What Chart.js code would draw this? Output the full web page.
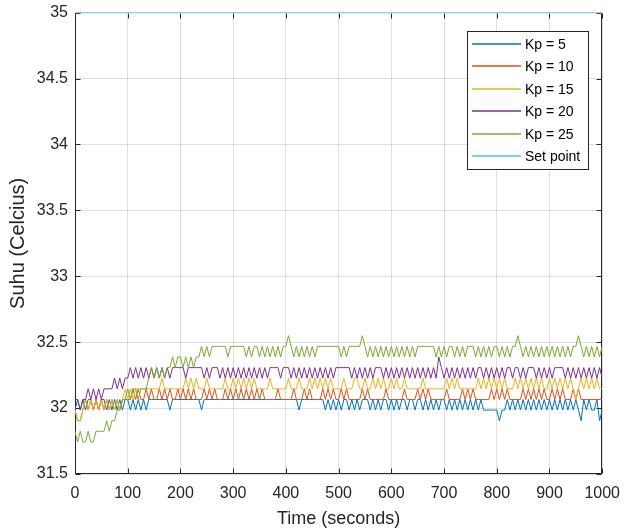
<!DOCTYPE html>
<html>
<head>
<meta charset="utf-8">
<script src="https://cdn.jsdelivr.net/npm/chart.js@4.4.1/dist/chart.umd.min.js"></script>
<style>
  html, body { margin: 0; padding: 0; background: #fff; }
</style>
</head>
<body>
<canvas id="chart_suhu" width="624" height="532"></canvas>
<script>
// temperature steps the sensor gives (deg C), index = one code char (0..9, a)
const LEVELS = [31.743, 31.824, 31.904, 31.985, 32.065, 32.146, 32.227, 32.307, 32.388, 32.468, 32.549];
const STEP = 5; // seconds between samples

const seriesLabels = ['Kp = 5', 'Kp = 10', 'Kp = 15', 'Kp = 20', 'Kp = 25', 'Set point'];
const seriesColors = ['#0072BD', '#D95319', '#EDB120', '#7E2F8E', '#77AC30', '#4DBEEE'];

// level code every 5 s from 0 to 1000 s, one line = 100 s
const kp5 =
  "34343 44343 44343 43434" +
  "43434 34344 44444 43444" +
  "44444 44434 44444 44444" +
  "44444 44444 44444 44444" +
  "44444 34444 44444 34343" +
  "43443 43434 44343 43443" +
  "43434 43443 44343 43434" +
  "43434 34343 43434 33333" +
  "32334 34343 43434 34343" +
  "43434 34343 43243 43342" + "3";
const kp10 =
  "32234 34343 43434 34344" +
  "44545 44545 44545 45445" +
  "45454 54445 45454 44545" +
  "45454 54545 45444 44544" +
  "44454 44545 44445 45454" +
  "45454 44445 45444 44454" +
  "44444 54444 54545 44444" +
  "45444 44545 45444 44454" +
  "54545 44444 54545 45454" +
  "45454 54445 45444 44444" + "4";
const kp15 =
  "32234 34343 43434 34345" +
  "45455 55555 55565 55555" +
  "55656 56555 65555 55655" +
  "65656 56565 55556 55555" +
  "56555 65556 56565 65655" +
  "55655 56655 65565 65655" +
  "65655 65555 55655 55555" +
  "56565 65555 55565 65656" +
  "56565 55656 56565 65655" +
  "65656 56565 45656 56565" + "5";
const kp20 =
  "44344 54545 45555 65656" +
  "67676 76767 67676 76777" +
  "77677 77776 76777 67676" +
  "76767 67676 76767 77767" +
  "77676 76767 67676 76767" +
  "77777 67676 76767 77676" +
  "76767 67676 76767 67687" +
  "67676 76767 67677 67676" +
  "76767 76776 76777 67676" +
  "76777 76767 67676 76767" + "6";
const kp25 =
  "10100 10011 11212 23344" +
  "54554 55567 67676 77878" +
  "87878 78898 98999 99989" +
  "99999 89899 89898 98989" +
  "9a989 89898 98999 99999" +
  "98989 9999a 98989 89898" +
  "98989 89898 99999 99898" +
  "98998 98989 99898 98989" +
  "98989 899a9 89898 98989" +
  "89898 98989 9a989 89898" + "9";
const setPointTime = [0, 1000];
const setPointValue = [35, 35];

function toPoints(code) {
  var pts = [];
  code = code.replace(/\s/g, '');
  for (var i = 0; i < code.length; i++) {
    pts.push({ x: i * STEP, y: LEVELS[parseInt(code[i], 16)] });
  }
  return pts;
}

var seriesData = [toPoints(kp5), toPoints(kp10), toPoints(kp15), toPoints(kp20), toPoints(kp25),
  setPointTime.map(function (t, i) { return { x: t, y: setPointValue[i] }; })];

var FONT = '"Liberation Sans", Arial, Helvetica, sans-serif';
Chart.defaults.font.family = FONT;
Chart.defaults.color = '#262626';

// axes box with inward ticks, drawn under the lines like matlab does
const boxTicks = {
  id: 'boxTicks',
  beforeDatasetsDraw(chart) {
    const { ctx, chartArea: a, scales: { x, y } } = chart;
    var L = Math.round(a.left) + 0.5, R = Math.round(a.right) - 0.5;
    var T = Math.round(a.top) + 0.5, B = Math.round(a.bottom) - 0.5;
    ctx.save();
    ctx.strokeStyle = '#262626';
    ctx.lineWidth = 1;
    ctx.beginPath();
    x.ticks.forEach(function (t) {
      var px = Math.round(x.getPixelForValue(t.value)) + 0.5;
      ctx.moveTo(px, B); ctx.lineTo(px, B - 5);
      ctx.moveTo(px, T); ctx.lineTo(px, T + 5);
    });
    y.ticks.forEach(function (t) {
      var py = Math.round(y.getPixelForValue(t.value)) + 0.5;
      ctx.moveTo(L, py); ctx.lineTo(L + 5, py);
      ctx.moveTo(R, py); ctx.lineTo(R - 5, py);
    });
    ctx.moveTo(L, T); ctx.lineTo(L, B); ctx.lineTo(R, B); ctx.lineTo(R, T);
    ctx.stroke();
    ctx.restore();
  }
};

// legend box in the upper right corner of the plot
const insideLegend = {
  id: 'insideLegend',
  afterDatasetsDraw(chart) {
    const { ctx, chartArea: a } = chart;
    var boxW = 121, boxH = 138, rowH = 22.4;
    var left = Math.round(a.right - 14 - boxW), top = Math.round(a.top + 18);
    ctx.save();
    ctx.fillStyle = '#fff';
    ctx.fillRect(left, top, boxW, boxH);
    ctx.strokeStyle = '#262626';
    ctx.lineWidth = 1;
    ctx.strokeRect(left + 0.5, top + 0.5, boxW, boxH);
    ctx.font = '14px ' + FONT;
    ctx.textBaseline = 'middle';
    chart.data.datasets.forEach(function (ds, i) {
      var yy = Math.round(top + 13 + i * rowH);
      ctx.strokeStyle = seriesColors[i];
      ctx.lineWidth = 1.5;
      ctx.beginPath();
      ctx.moveTo(left + 5, yy);
      ctx.lineTo(left + 54, yy);
      ctx.stroke();
      ctx.fillStyle = '#000';
      ctx.fillText(ds.label, left + 58, yy + 1);
    });
    ctx.restore();
  }
};

var ctx = document.getElementById('chart_suhu').getContext('2d');
var chart = new Chart(ctx, {
  type: 'line',
  data: {
    datasets: seriesLabels.map(function (lbl, i) {
      return {
        label: lbl,
        data: seriesData[i],
        borderColor: seriesColors[i],
        backgroundColor: seriesColors[i],
        borderWidth: i === 5 ? 1.5 : 1,
        pointRadius: 0,
        tension: 0,
        fill: false,
        order: seriesLabels.length - i // later series on top
      };
    })
  },
  options: {
    responsive: false,
    animation: false,
    devicePixelRatio: 1,
    layout: { padding: { top: 12, right: 21, left: 0, bottom: 0 } },
    plugins: {
      legend: { display: false },
      tooltip: { enabled: false }
    },
    scales: {
      x: {
        type: 'linear',
        min: 0,
        max: 1000,
        ticks: { stepSize: 100, padding: 4, font: { size: 16 }, color: '#262626', maxRotation: 0,
          callback: function (v) { return String(v); } },
        grid: { color: 'rgba(38,38,38,0.15)', drawTicks: true, tickLength: 6, tickColor: 'rgba(0,0,0,0)' },
        border: { display: false },
        title: { display: true, text: 'Time (seconds)', font: { size: 18 }, color: '#262626', padding: { top: 0, bottom: 2 } },
        afterFit: function (scale) { scale.height = 58; }
      },
      y: {
        min: 31.5,
        max: 35,
        ticks: { stepSize: 0.5, padding: 3, font: { size: 16 }, color: '#262626',
          callback: function (v) { return String(v); } },
        grid: { color: 'rgba(38,38,38,0.15)', drawTicks: true, tickLength: 4, tickColor: 'rgba(0,0,0,0)' },
        border: { display: false },
        title: { display: true, text: 'Suhu (Celcius)', font: { size: 20 }, color: '#262626', padding: { top: 6, bottom: 0 } },
        afterFit: function (scale) { scale.width = 75; }
      }
    }
  },
  plugins: [boxTicks, insideLegend]
});
</script>
</body>
</html>
